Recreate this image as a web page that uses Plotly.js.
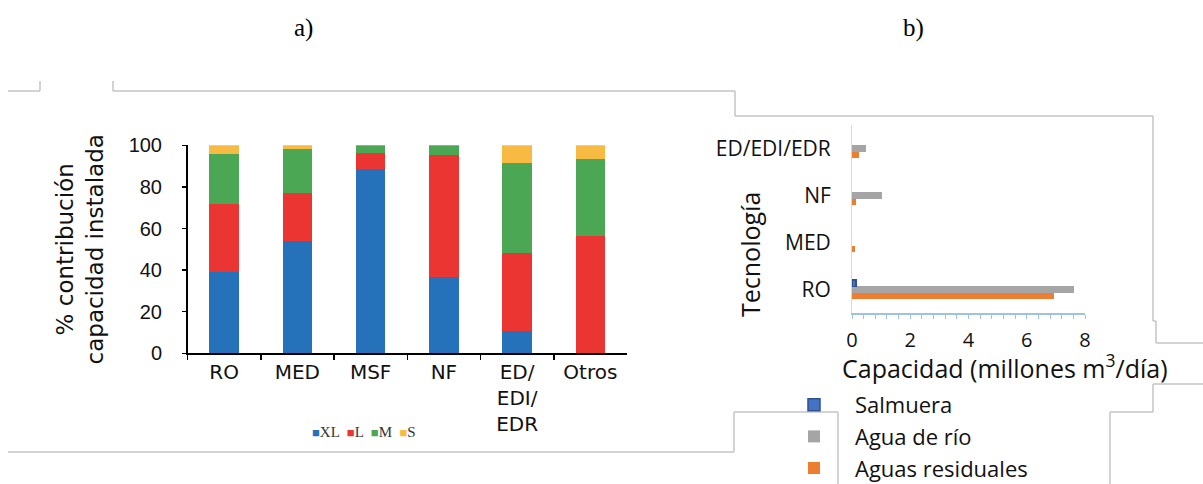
<!DOCTYPE html>
<html>
<head>
<meta charset="utf-8">
<script src="https://cdn.plot.ly/plotly-3.0.1.min.js"></script>
<style>html,body{margin:0;padding:0;background:#fff;overflow:hidden;}#chart{width:1203px;height:484px;}</style>
</head>
<body>
<div id="chart"></div>
<script>
// ---- Data: panel a) % contribution of installed capacity by plant size ----
const categoriesA = ['RO', 'MED', 'MSF', 'NF', 'ED/EDI/EDR', 'Otros'];
const tickLabelsA = ['RO', 'MED', 'MSF', 'NF', 'ED/<br>EDI/<br>EDR', 'Otros'];
const sizeNames = ['XL', 'L', 'M', 'S'];
const sizeXL = [39, 54, 88.5, 36.5, 10.5, 0];
const sizeL  = [33, 23, 8, 59, 37.5, 56.5];
const sizeM  = [24, 21, 3.5, 4.5, 43.5, 37];
const sizeS  = [4, 2, 0, 0, 8.5, 6.5];
const ticksA = [0, 20, 40, 60, 80, 100];

// ---- Data: panel b) capacity (million m3/day) by feed water ----
const categoriesB = ['RO', 'MED', 'NF', 'ED/EDI/EDR'];
const salmuera = [0.14, null, null, null];
const aguaRio = [7.62, 0, 1.03, 0.48];
const aguasResiduales = [6.93, 0.1, 0.13, 0.24];
const ticksB = [0, 2, 4, 6, 8];

const W = 1203, H = 484;
const fx = p => p / W;
const fy = p => 1 - p / H;

const leftFont = 'DejaVu Sans, Verdana, sans-serif';
const rightFont = 'Open Sans, Segoe UI, sans-serif';
const serif = 'Liberation Serif, Times New Roman, serif';
const sizeColors = ['#2672BA', '#EA3532', '#4CA755', '#F7BB43'];

const sizeSeries = [sizeXL, sizeL, sizeM, sizeS];
const traces = sizeSeries.map((vals, i) => ({
  type: 'bar', name: sizeNames[i], x: categoriesA, y: vals,
  marker: {color: sizeColors[i]}, xaxis: 'x', yaxis: 'y', showlegend: false
}));
traces.push(
  {type: 'bar', orientation: 'h', name: 'Aguas residuales', y: categoriesB, x: aguasResiduales, offsetgroup: 'c',
   marker: {color: '#ED7D31'}, xaxis: 'x2', yaxis: 'y2', legend: 'legend2'},
  {type: 'bar', orientation: 'h', name: 'Agua de río', y: categoriesB, x: aguaRio, offsetgroup: 'b',
   marker: {color: '#A5A5A5'}, xaxis: 'x2', yaxis: 'y2', legend: 'legend2'},
  {type: 'bar', orientation: 'h', name: 'Salmuera', y: categoriesB, x: salmuera, offsetgroup: 'a',
   marker: {color: '#4472C4', line: {color: '#2F528F', width: 1.5}}, xaxis: 'x2', yaxis: 'y2', legend: 'legend2'}
);

// compact legend for panel a), built from the size names and colours
const legendAText = sizeNames.map((n, i) =>
  '<span style="color:' + sizeColors[i] + ';font-size:13px">■</span>' + n).join('  ');

function seg(x0, y0, x1, y1) {
  return {type: 'line', xref: 'paper', yref: 'paper', x0: fx(x0), y0: fy(y0), x1: fx(x1), y1: fy(y1),
          line: {color: '#C4C4C4', width: 1.5}, layer: 'below'};
}

const layout = {
  width: W, height: H,
  margin: {l: 0, r: 0, t: 0, b: 0, autoexpand: false},
  paper_bgcolor: '#ffffff', plot_bgcolor: 'rgba(0,0,0,0)',
  barmode: 'stack',
  bargap: 0.6,
  bargroupgap: 0,
  xaxis: {
    domain: [fx(187.5), fx(627)], anchor: 'y', type: 'category',
    categoryorder: 'array', categoryarray: categoriesA,
    tickvals: categoriesA, ticktext: tickLabelsA,
    range: [-0.5, 5.5], showline: true, linecolor: '#000', linewidth: 1.5,
    ticks: 'outside', tickson: 'boundaries', ticklen: 5, tickcolor: '#000', tickwidth: 1.5,
    tickfont: {family: leftFont, size: 20, color: '#111'}, showgrid: false, zeroline: false, fixedrange: true
  },
  yaxis: {
    domain: [fy(353.3), fy(145.3)], anchor: 'x', range: [0, 100], tickvals: ticksA,
    showline: true, linecolor: '#000', linewidth: 1.5, ticks: 'outside', ticklen: 4, tickcolor: '#000', tickwidth: 1.5,
    tickfont: {family: 'Liberation Sans, Arial, sans-serif', size: 20, color: '#111'},
    showgrid: false, zeroline: false, fixedrange: true, ticklabelstandoff: 16,
    title: {text: '% contribución<br>capacidad instalada', font: {family: leftFont, size: 23, color: '#111'}, standoff: 18}
  },
  xaxis2: {
    domain: [fx(852), fx(1085)], anchor: 'y2', range: [0, 8], tickvals: ticksB,
    showline: true, linecolor: '#9DC3E6', linewidth: 1.5, ticks: 'outside', ticklen: 4, tickcolor: '#9DC3E6', tickwidth: 1,
    minor: {dtick: 0.4, ticks: 'outside', ticklen: 4, tickcolor: '#9DC3E6', tickwidth: 1, showgrid: false},
    tickfont: {family: rightFont, size: 20, color: '#111'}, showgrid: false, zeroline: false, fixedrange: true,
    ticklabelstandoff: 4
  },
  yaxis2: {
    domain: [fy(313), fy(125)], anchor: 'x2', type: 'category',
    categoryorder: 'array', categoryarray: categoriesB, range: [-0.5, 3.5],
    showline: true, linecolor: '#D9D9D9', linewidth: 1, ticks: '',
    tickfont: {family: rightFont, size: 21, color: '#111'}, showgrid: false, zeroline: false, fixedrange: true,
    ticklabelstandoff: 16
  },
  legend2: {
    orientation: 'v', x: fx(773), xanchor: 'left', y: fy(384), yanchor: 'top',
    font: {family: rightFont, size: 22, color: '#111'}, itemwidth: 72, tracegroupgap: 0,
    traceorder: 'reversed', bgcolor: 'rgba(0,0,0,0)'
  },
  annotations: [
    {text: 'a)', xref: 'paper', yref: 'paper', x: fx(303), y: fy(28), showarrow: false,
     font: {family: serif, size: 25, color: '#000'}, xanchor: 'center', yanchor: 'middle'},
    {text: 'b)', xref: 'paper', yref: 'paper', x: fx(913), y: fy(28), showarrow: false,
     font: {family: serif, size: 25, color: '#000'}, xanchor: 'center', yanchor: 'middle'},
    {text: legendAText, xref: 'paper', yref: 'paper', x: fx(364), y: fy(432), showarrow: false,
     font: {family: serif, size: 15, color: '#333'}, xanchor: 'center', yanchor: 'middle'},
    {text: 'Capacidad (millones m<sup>3</sup>/día)', xref: 'paper', yref: 'paper', x: fx(1005), y: fy(366), showarrow: false,
     font: {family: rightFont, size: 25, color: '#111'}, xanchor: 'center', yanchor: 'middle'},
    {text: 'Tecnología', xref: 'paper', yref: 'paper', x: fx(750), y: fy(255), showarrow: false, textangle: -90,
     font: {family: rightFont, size: 25, color: '#111'}, xanchor: 'center', yanchor: 'middle'}
  ],
  shapes: [
    seg(8, 91, 40, 91), seg(40, 81, 40, 91),
    seg(113, 81, 113, 91), seg(113, 91, 735, 91),
    seg(735, 91, 735, 116), seg(735, 116, 1153, 116),
    seg(1153, 116, 1153, 321), seg(1153, 321, 1156, 321), seg(1156, 321, 1156, 343), seg(1156, 343, 1203, 343),
    seg(1153, 384, 1203, 384), seg(1153, 384, 1153, 412), seg(1110, 412, 1153, 412), seg(1110, 412, 1110, 484),
    seg(8, 452, 734, 452), seg(734, 412, 734, 452), seg(734, 412, 838, 412), seg(838, 412, 838, 484)
  ]
};

Plotly.newPlot('chart', traces, layout, {displayModeBar: false, staticPlot: true});
</script>
</body>
</html>
